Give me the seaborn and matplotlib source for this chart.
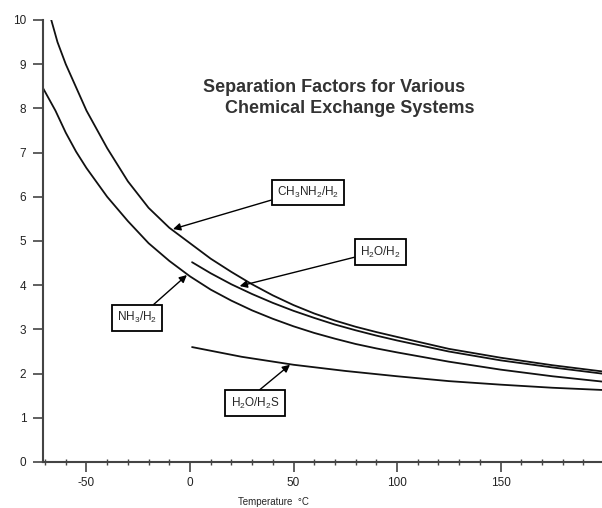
import pandas as pd
import numpy as np
import matplotlib
matplotlib.use("Agg")
import matplotlib.pyplot as plt
import seaborn as sns

# Values (temperature in deg C, separation factor)
ch3nh2_t = [-67, -64, -60, -50, -40, -30, -20, -10, 0, 10, 20, 30, 40, 50, 60, 70, 80, 90,
            100, 125, 150, 175, 199]
ch3nh2_v = [10.0, 9.5, 9.0, 7.95, 7.1, 6.35, 5.75, 5.3, 4.95, 4.6, 4.3, 4.02, 3.77, 3.55,
            3.36, 3.2, 3.06, 2.94, 2.83, 2.56, 2.36, 2.19, 2.05]

h2o_h2_t = [1, 10, 20, 30, 40, 50, 60, 70, 80, 90, 100, 125, 150, 175, 199]
h2o_h2_v = [4.52, 4.27, 4.02, 3.8, 3.6, 3.42, 3.26, 3.11, 2.98, 2.86, 2.75, 2.5, 2.3,
            2.14, 2.0]

nh3_t = [-71, -65, -60, -55, -50, -40, -30, -20, -10, 0, 10, 20, 30, 40, 50, 60, 70, 80,
         90, 100, 125, 150, 175, 199]
nh3_v = [8.46, 7.95, 7.45, 7.02, 6.65, 6.0, 5.45, 4.95, 4.55, 4.2, 3.9, 3.65, 3.43, 3.24,
         3.07, 2.92, 2.79, 2.67, 2.57, 2.48, 2.27, 2.09, 1.94, 1.82]

h2s_t = [1, 25, 50, 75, 100, 125, 150, 175, 199]
h2s_v = [2.6, 2.38, 2.2, 2.06, 1.94, 1.83, 1.75, 1.68, 1.63]

# label text, label box centre, arrow tip (data coords)
labels = [r"CH$_3$NH$_2$/H$_2$", r"H$_2$O/H$_2$", r"NH$_3$/H$_2$", r"H$_2$O/H$_2$S"]
label_xy = [(57, 6.1), (92, 4.75), (-25.6, 3.26), (31.4, 1.33)]
tip_xy = [(-8.2, 5.27), (24, 3.98), (-1.5, 4.23), (48.3, 2.2)]
arrow_from = [(0.0, 0.1), (0.0, 0.25), (0.75, 1.0), (0.45, 1.0)]

sns.set_style("ticks")
plt.rcParams['font.family'] = ['Liberation Sans', 'DejaVu Sans']
plt.rcParams['mathtext.fontset'] = 'custom'
plt.rcParams['mathtext.rm'] = 'Liberation Sans'
plt.rcParams['mathtext.default'] = 'regular'
plt.rcParams['axes.unicode_minus'] = False

fig = plt.figure(figsize=(6.02, 5.08), dpi=100)
ax = fig.add_axes([43 / 602, 46 / 508, (602 - 43) / 602, (462 - 20) / 508])

for t, v in [(ch3nh2_t, ch3nh2_v), (h2o_h2_t, h2o_h2_v), (nh3_t, nh3_v), (h2s_t, h2s_v)]:
    sns.lineplot(x=t, y=v, ax=ax, color="#111111", linewidth=1.3)

ax.set_xlim(-71, 199)
ax.set_ylim(0, 10)
ax.set_xticks([-50, 0, 50, 100, 150])
ax.set_xticks(np.arange(-70, 200, 10), minor=True)
ax.set_yticks(range(0, 11))
sns.despine(ax=ax)
for s in ["left", "bottom"]:
    ax.spines[s].set_linewidth(1.5)
    ax.spines[s].set_color("#444444")
ax.tick_params(axis="y", direction="out", length=7, width=1.2, pad=5,
               labelsize=8.5, colors="#444444", labelcolor="#222222")
ax.tick_params(axis="x", which="major", direction="out", length=7, width=1.2,
               pad=4, labelsize=8.5, colors="#444444", labelcolor="#222222")
ax.tick_params(axis="x", which="minor", direction="inout", length=5, width=1.0,
               colors="#444444")
ax.set_xlabel("")
ax.set_ylabel("")

fig.text(238 / 602, 1 - 502 / 508, "Temperature  °C", fontsize=7, va="center")

fig.text(203 / 602, 1 - 88 / 508, "Separation Factors for Various",
         fontsize=13, fontweight="bold", color="#333333", va="center")
fig.text(225 / 602, 1 - 108 / 508, "Chemical Exchange Systems",
         fontsize=13, fontweight="bold", color="#333333", va="center")

for lab, lxy, txy, rp in zip(labels, label_xy, tip_xy, arrow_from):
    ax.annotate(lab, xy=txy, xytext=lxy, ha="center", va="center", fontsize=8.5,
                bbox=dict(boxstyle="square,pad=0.45", fc="white", ec="black", lw=1.3),
                arrowprops=dict(arrowstyle="-|>", color="black", lw=1.0,
                                mutation_scale=11, relpos=rp, shrinkA=0, shrinkB=0))

fig.savefig("out.png", dpi=100)
